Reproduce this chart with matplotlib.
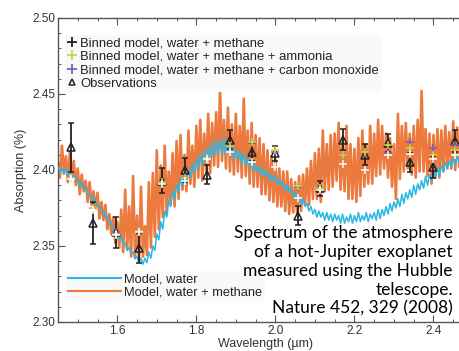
import matplotlib
matplotlib.use('Agg')
import matplotlib.pyplot as plt
from matplotlib.lines import Line2D
from matplotlib.ticker import MultipleLocator
import numpy as np

# observations (triangles with error bars)
obs_wl = [1.483, 1.539, 1.597, 1.656, 1.712, 1.771, 1.828, 1.884, 1.942,
          2.000, 2.057, 2.113, 2.172, 2.227, 2.285, 2.341, 2.399, 2.455]
obs_val = [2.415, 2.365, 2.359, 2.3485, 2.393, 2.400, 2.397, 2.420, 2.412,
           2.411, 2.370, 2.388, 2.420, 2.410, 2.418, 2.405, 2.402, 2.419]
obs_err = [0.016, 0.014, 0.010, 0.010, 0.008, 0.008, 0.0065, 0.006, 0.006,
           0.005, 0.006, 0.005, 0.007, 0.007, 0.006, 0.0065, 0.007, 0.007]

# binned models
bin_methane = [2.394, 2.374, 2.357, 2.359, 2.391, 2.393, 2.407, 2.412, 2.4055,
               2.402, 2.3815, 2.387, 2.404, 2.400, 2.410, 2.4105, 2.407, 2.410]
bin_ammonia = [2.395, 2.375, 2.358, 2.360, 2.392, 2.395, 2.408, 2.416, 2.4187,
               2.413, 2.3895, 2.388, 2.410, 2.412, 2.4164, 2.4142, 2.410, 2.413]
bin_co = [2.395, 2.375, 2.3594, 2.360, 2.392, 2.395, 2.408, 2.416, 2.418,
          2.412, 2.389, 2.388, 2.410, 2.411, 2.4114, 2.4186, 2.4142, 2.4164]

# high resolution model spectra, 1.45 - 2.47 um in 0.005 um steps
model_water_methane = [
    2.405, 2.395, 2.416, 2.398, 2.409, 2.392, 2.412, 2.396, 2.406, 2.390,
    2.401, 2.384, 2.397, 2.386, 2.393, 2.379, 2.392, 2.377, 2.386, 2.374,
    2.385, 2.368, 2.379, 2.367, 2.377, 2.361, 2.371, 2.358, 2.369, 2.352,
    2.366, 2.349, 2.374, 2.346, 2.387, 2.348, 2.376, 2.343, 2.396, 2.342,
    2.370, 2.340, 2.389, 2.343, 2.363, 2.344, 2.392, 2.349, 2.398, 2.356,
    2.413, 2.361, 2.403, 2.369, 2.416, 2.371, 2.399, 2.377, 2.411, 2.376,
    2.419, 2.381, 2.423, 2.387, 2.410, 2.386, 2.426, 2.391, 2.416, 2.389,
    2.429, 2.395, 2.433, 2.393, 2.424, 2.399, 2.437, 2.398, 2.431, 2.403,
    2.438, 2.402, 2.454, 2.406, 2.433, 2.401, 2.441, 2.399, 2.430, 2.397,
    2.437, 2.399, 2.429, 2.395, 2.447, 2.396, 2.426, 2.391, 2.431, 2.389,
    2.423, 2.389, 2.421, 2.384, 2.417, 2.384, 2.413, 2.380, 2.409, 2.379,
    2.407, 2.376, 2.401, 2.376, 2.399, 2.373, 2.399, 2.371, 2.394, 2.372,
    2.392, 2.371, 2.396, 2.373, 2.397, 2.377, 2.401, 2.377, 2.406, 2.381,
    2.411, 2.381, 2.414, 2.379, 2.426, 2.386, 2.417, 2.387, 2.423, 2.389,
    2.424, 2.393, 2.431, 2.387, 2.419, 2.386, 2.429, 2.381, 2.417, 2.381,
    2.414, 2.379, 2.421, 2.383, 2.426, 2.389, 2.417, 2.391, 2.429, 2.391,
    2.424, 2.396, 2.433, 2.397, 2.429, 2.401, 2.424, 2.395, 2.421, 2.389,
    2.417, 2.381, 2.437, 2.394, 2.429, 2.399, 2.431, 2.401, 2.424, 2.397,
    2.429, 2.395, 2.433, 2.399, 2.452, 2.399, 2.427, 2.396, 2.424, 2.391,
    2.423, 2.395, 2.427, 2.395, 2.426, 2.399, 2.429, 2.401, 2.425, 2.401,
    2.432, 2.400, 2.428, 2.402, 2.430,
]
model_water = [
    2.402, 2.399, 2.401, 2.397, 2.401, 2.397, 2.399, 2.394, 2.397, 2.393,
    2.394, 2.389, 2.392, 2.387, 2.388, 2.385, 2.385, 2.380, 2.382, 2.378,
    2.378, 2.375, 2.375, 2.370, 2.372, 2.366, 2.367, 2.363, 2.363, 2.358,
    2.358, 2.354, 2.356, 2.351, 2.352, 2.347, 2.349, 2.345, 2.346, 2.342,
    2.343, 2.339, 2.342, 2.338, 2.342, 2.339, 2.346, 2.342, 2.350, 2.347,
    2.358, 2.354, 2.366, 2.361, 2.373, 2.369, 2.380, 2.376, 2.386, 2.381,
    2.390, 2.386, 2.395, 2.389, 2.397, 2.393, 2.400, 2.395, 2.404, 2.398,
    2.407, 2.401, 2.411, 2.403, 2.413, 2.406, 2.415, 2.407, 2.418, 2.409,
    2.420, 2.411, 2.419, 2.410, 2.422, 2.410, 2.418, 2.410, 2.417, 2.407,
    2.414, 2.407, 2.412, 2.404, 2.411, 2.403, 2.408, 2.402, 2.406, 2.399,
    2.404, 2.399, 2.402, 2.396, 2.401, 2.396, 2.399, 2.393, 2.397, 2.393,
    2.396, 2.390, 2.394, 2.390, 2.392, 2.386, 2.390, 2.386, 2.388, 2.382,
    2.385, 2.381, 2.383, 2.377, 2.381, 2.376, 2.378, 2.373, 2.376, 2.371,
    2.374, 2.369, 2.373, 2.369, 2.372, 2.367, 2.372, 2.367, 2.371, 2.366,
    2.371, 2.367, 2.370, 2.365, 2.371, 2.365, 2.369, 2.366, 2.371, 2.365,
    2.370, 2.366, 2.372, 2.366, 2.370, 2.367, 2.372, 2.366, 2.371, 2.368,
    2.372, 2.367, 2.374, 2.368, 2.374, 2.370, 2.376, 2.371, 2.378, 2.373,
    2.379, 2.375, 2.381, 2.376, 2.384, 2.378, 2.385, 2.381, 2.387, 2.382,
    2.390, 2.384, 2.391, 2.387, 2.393, 2.388, 2.396, 2.390, 2.397, 2.393,
    2.399, 2.395, 2.402, 2.396, 2.403, 2.399, 2.405, 2.401, 2.406, 2.402,
    2.408, 2.403, 2.409, 2.405, 2.410,
]
model_wl = np.linspace(1.45, 2.47, len(model_water))

caption = ['Spectrum of the atmosphere',
           'of a hot-Jupiter exoplanet',
           'measured using the Hubble',
           'telescope.',
           'Nature 452, 329 (2008)']

ORANGE = '#ec7a3e'
CYAN = '#2bb7e3'
YELLOW = '#cfd444'
PURPLE = '#7d5cc0'
AXCOL = '#555555'

plt.rcParams['font.family'] = ['Liberation Sans', 'DejaVu Sans']

fig = plt.figure(figsize=(4.6, 3.51), dpi=100)
# axes run past the right edge like the cropped original
ax = fig.add_axes([58 / 460, 29 / 351, 415 / 460, 304 / 351])

ax.plot(model_wl, model_water_methane, color=ORANGE, lw=1.9, zorder=2)
ax.plot(model_wl, model_water, color=CYAN, lw=1.1, zorder=3)

ax.errorbar(obs_wl, obs_val, yerr=obs_err, fmt='none', ecolor='#222222',
            elinewidth=1.3, capsize=2.5, capthick=1.1, zorder=4)
ax.plot(obs_wl, obs_val, ls='none', marker='^', ms=6, mfc='none',
        mec='#222222', mew=1.1, zorder=5)
ax.plot(obs_wl, bin_co, ls='none', marker='+', ms=6, mew=1.1,
        color=PURPLE, zorder=6)
ax.plot(obs_wl, bin_ammonia, ls='none', marker='+', ms=6, mew=1.1,
        color=YELLOW, zorder=6)
ax.plot(obs_wl, bin_methane, ls='none', marker='+', ms=6, mew=1.1,
        color='white', zorder=6)

ax.set_xlim(1.45, 2.5)
ax.set_ylim(2.30, 2.50)
ax.xaxis.set_major_locator(MultipleLocator(0.2))
ax.xaxis.set_minor_locator(MultipleLocator(0.05))
ax.yaxis.set_major_locator(MultipleLocator(0.05))
ax.yaxis.set_minor_locator(MultipleLocator(0.01))
ax.xaxis.set_major_formatter(plt.FormatStrFormatter('%.1f'))
ax.yaxis.set_major_formatter(plt.FormatStrFormatter('%.2f'))
ax.tick_params(which='both', direction='in', top=True, right=False,
               color=AXCOL, labelcolor='#333333', labelsize=8.5, pad=2)
ax.tick_params(which='major', length=5, width=0.8)
ax.tick_params(which='minor', length=2.5, width=0.7)
for side in ['left', 'bottom', 'top']:
    ax.spines[side].set_color(AXCOL)
    ax.spines[side].set_linewidth(1.0)
ax.spines['right'].set_visible(False)

ax.set_xlabel('Wavelength (µm)', fontsize=9, color='#333333', labelpad=1)
ax.set_ylabel('Absorption (%)', fontsize=9, color='#333333', labelpad=4)

handles1 = [
    Line2D([], [], ls='none', marker='+', ms=7, mew=1.3, color='#222222'),
    Line2D([], [], ls='none', marker='+', ms=7, mew=1.3, color=YELLOW),
    Line2D([], [], ls='none', marker='+', ms=7, mew=1.3, color=PURPLE),
    Line2D([], [], ls='none', marker='^', ms=5, mfc='none', mec='#222222', mew=1.1),
]
labels1 = ['Binned model, water + methane',
           'Binned model, water + methane + ammonia',
           'Binned model, water + methane + carbon monoxide',
           'Observations']
leg1 = ax.legend(handles1, labels1, loc='upper left',
                 bbox_to_anchor=(0.018, 0.945), fontsize=9.4, frameon=True,
                 facecolor='#f9f9f9', edgecolor='none', framealpha=1,
                 handlelength=0.6, handletextpad=0.35, labelspacing=0.1,
                 borderpad=0.2, borderaxespad=0)
for t in leg1.get_texts():
    t.set_color('#222222')
ax.add_artist(leg1)

handles2 = [Line2D([], [], color=CYAN, lw=1.5),
            Line2D([], [], color=ORANGE, lw=1.5)]
leg2 = ax.legend(handles2, ['Model, water', 'Model, water + methane'],
                 loc='lower left', bbox_to_anchor=(0.018, 0.068), fontsize=9.3,
                 frameon=True, facecolor='#f9f9f9', edgecolor='none',
                 framealpha=1, handlelength=4.1, handletextpad=0.25,
                 labelspacing=0.1, borderpad=0.2, borderaxespad=0)
for t in leg2.get_texts():
    t.set_color('#222222')

# caption lines, right aligned on given baselines (pixels from top)
baselines = [238, 257, 276, 294.5, 313]
for line, yb in zip(caption, baselines):
    fig.text(453 / 460, 1 - yb / 351, line, ha='right', va='baseline',
             fontsize=12.5, family=['Lato', 'DejaVu Sans'], color='black',
             zorder=10)

fig.savefig('out.png', dpi=100)
